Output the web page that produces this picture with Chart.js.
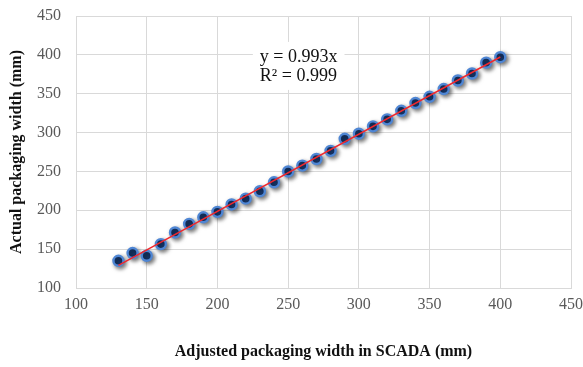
<!DOCTYPE html>
<html>
<head>
<meta charset="utf-8">
<script src="https://cdn.jsdelivr.net/npm/chart.js@4"></script>
<style>
html,body{margin:0;padding:0;background:#fff;}
#wrap{width:583px;height:367px;position:relative;}
</style>
</head>
<body>
<div id="wrap"><canvas id="c" width="583" height="367"></canvas></div>
<script>
const adjustedWidth = [130,140,150,160,170,180,190,200,210,220,230,240,250,260,270,280,290,300,310,320,330,340,350,360,370,380,390,400];
const actualWidth = [135,145,141.5,156.5,171.5,182.5,191,198,207.5,215,224.5,236,250,257.5,266,276.5,292,298.5,308,317,328,338,346,356,367,376,390,397];
const trendSlope = 0.993;
const equationLines = ["y = 0.993x", "R\u00b2 = 0.999"];
const xTicks = [100,150,200,250,300,350,400,450];
const yTicks = [100,150,200,250,300,350,400,450];

const points = adjustedWidth.map((x, i) => ({x: x, y: actualWidth[i]}));
const xMin = Math.min(...adjustedWidth), xMax = Math.max(...adjustedWidth);
const trend = [{x: xMin, y: trendSlope * xMin}, {x: xMax, y: trendSlope * xMax}];

const FONT = "'Liberation Serif', 'Times New Roman', serif";

const shadowPlugin = {
  id: 'shadow',
  beforeDatasetDraw(chart, args) {
    if (args.index === 0) {
      const ctx = chart.ctx;
      ctx.save();
      ctx.shadowColor = 'rgba(0,0,0,0.55)';
      ctx.shadowBlur = 4;
      ctx.shadowOffsetX = 2;
      ctx.shadowOffsetY = 2;
    }
  },
  afterDatasetDraw(chart, args) {
    if (args.index === 0) chart.ctx.restore();
  }
};

const equationPlugin = {
  id: 'equation',
  afterDatasetsDraw(chart) {
    const ctx = chart.ctx;
    const xs = chart.scales.x, ys = chart.scales.y;
    const left = xs.getPixelForValue(230);
    const top = ys.getPixelForValue(411.5);
    ctx.save();
    ctx.font = "18px " + FONT;
    const w = Math.max(...equationLines.map(t => ctx.measureText(t).width));
    ctx.fillStyle = '#fff';
    ctx.fillRect(left - 7, top - 4, w + 14, 48);
    ctx.fillStyle = '#111';
    ctx.textBaseline = 'middle';
    ctx.textAlign = 'left';
    equationLines.forEach((t, i) => ctx.fillText(t, left, top + 11 + i * 19));
    ctx.restore();
  }
};

function noOverhang(s) {
  s.paddingTop = 0; s.paddingBottom = 0; s.paddingLeft = 0; s.paddingRight = 0;
}

new Chart(document.getElementById('c'), {
  type: 'scatter',
  data: {
    datasets: [
      {
        label: 'Actual',
        data: points,
        pointRadius: 5,
        pointBackgroundColor: '#17376b',
        pointBorderColor: '#4f86d4',
        pointBorderWidth: 2.4,
        order: 1
      },
      {
        label: 'Trend',
        type: 'line',
        data: trend,
        borderColor: '#f0282d',
        borderWidth: 1.5,
        pointRadius: 0,
        fill: false,
        order: 0
      }
    ]
  },
  options: {
    responsive: false,
    animation: false,
    devicePixelRatio: 1,
    layout: {padding: {left: 0, right: 12, top: 16, bottom: 0}},
    plugins: {legend: {display: false}, tooltip: {enabled: false}},
    scales: {
      x: {
        type: 'linear',
        min: 100, max: 450,
        afterBuildTicks(s) { s.ticks = xTicks.map(v => ({value: v})); },
        afterFit(s) { s.height = 79; noOverhang(s); },
        grid: {color: '#d9d9d9', lineWidth: 1, drawTicks: false},
        border: {color: '#d9d9d9'},
        ticks: {color: '#595959', font: {family: FONT, size: 16}, padding: 7},
        title: {display: true, text: 'Adjusted packaging width in SCADA (mm)', color: '#111',
                font: {family: FONT, size: 16, weight: 'bold'}, padding: {top: 0, bottom: 6}}
      },
      y: {
        type: 'linear',
        min: 100, max: 450,
        afterBuildTicks(s) { s.ticks = yTicks.map(v => ({value: v})); },
        afterFit(s) { s.width = 76; noOverhang(s); },
        grid: {color: '#d9d9d9', lineWidth: 1, drawTicks: false},
        border: {color: '#d9d9d9'},
        ticks: {color: '#595959', font: {family: FONT, size: 16}, padding: 15},
        title: {display: true, text: 'Actual packaging width (mm)', color: '#111',
                font: {family: FONT, size: 16, weight: 'bold'}, padding: {top: 7, bottom: 0}}
      }
    }
  },
  plugins: [shadowPlugin, equationPlugin]
});
</script>
</body>
</html>
